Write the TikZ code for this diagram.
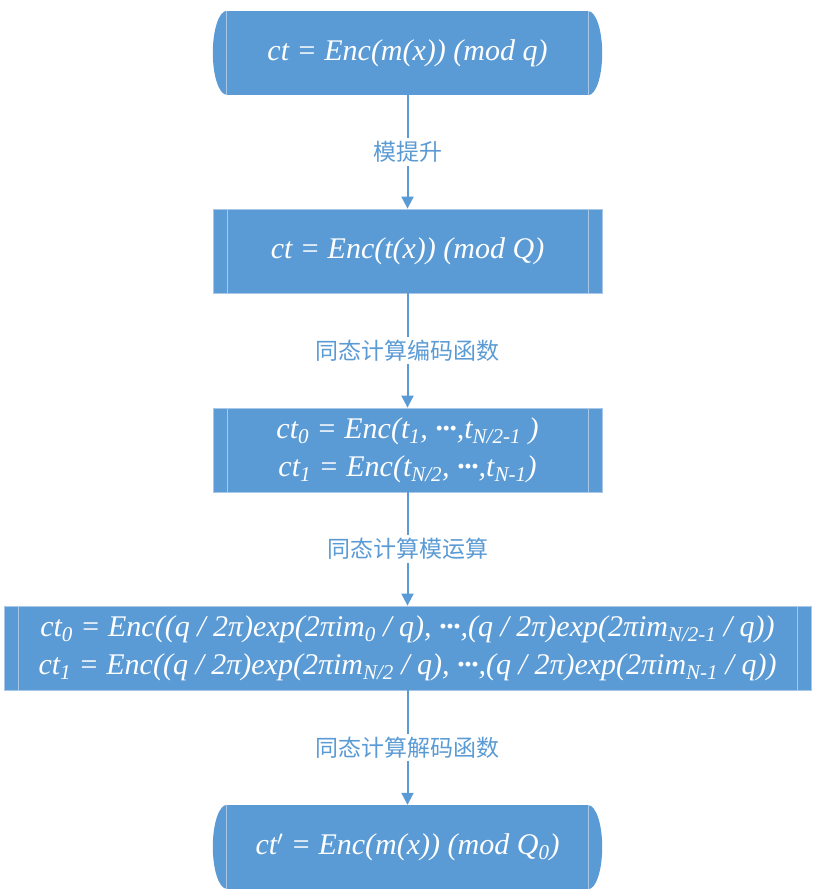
\documentclass[tikz,border=0pt]{standalone}
\usepackage{fontspec}
\setmainfont{Liberation Serif}
\newfontfamily\cjkfont{Noto Sans CJK SC}
\usetikzlibrary{positioning,arrows.meta}
\definecolor{boxblue}{HTML}{5B9BD5}
\definecolor{lineblue}{HTML}{A9C8E8}
\tikzset{
  stepnode/.style={rectangle, fill=boxblue, draw=lineblue, line width=0.8pt,
    minimum height=84pt, text=white, align=center,
    font=\fontsize{30}{38}\selectfont\itshape,
    path picture={
      \draw[lineblue, line width=0.8pt]
        ([xshift=14pt]path picture bounding box.north west) -- ([xshift=14pt]path picture bounding box.south west)
        ([xshift=-14pt]path picture bounding box.north east) -- ([xshift=-14pt]path picture bounding box.south east);
    }},
  endnode/.style={rectangle, fill=boxblue, minimum width=361pt, minimum height=84pt,
    text=white, font=\fontsize{30}{38}\selectfont\itshape},
  flow/.style={boxblue, line width=2pt, -{Triangle[length=12pt,width=12pt]}},
  steplabel/.style={fill=white, text=boxblue, inner sep=3pt, font=\fontsize{23}{26}\selectfont\cjkfont}
}
\newcommand{\dotsfill}{\textbf{\textperiodcentered\kern-0.5pt\textperiodcentered\kern-0.5pt\textperiodcentered}}
\newcommand{\bulges}[1]{%
  \fill[boxblue] (#1.north west) arc[start angle=90, end angle=270, x radius=14, y radius=42] -- cycle;
  \fill[boxblue] (#1.south east) arc[start angle=-90, end angle=90, x radius=14, y radius=42] -- cycle;
  \draw[lineblue, line width=0.8pt] (#1.north west) -- (#1.south west) (#1.north east) -- (#1.south east);
}
\begin{document}
\begin{tikzpicture}[x=1pt, y=1pt]
  \useasboundingbox (0,0) rectangle (818,-896);

  % boxes
  \node[endnode] (start) at (407.5,-53) {ct = Enc(m(x)) (mod q)};
  \bulges{start}
  \node[stepnode, minimum width=389pt] (lift) at (407.5,-251) {ct = Enc(t(x)) (mod Q)};
  \node[stepnode, minimum width=389pt] (encode) at (407.5,-450)
    {ct\textsubscript{0} = Enc(t\textsubscript{1}, \dotsfill,t\textsubscript{N/2-1} )\\
     ct\textsubscript{1} = Enc(t\textsubscript{N/2}, \dotsfill,t\textsubscript{N-1})};
  \node[stepnode, minimum width=807pt] (modop) at (407.5,-648)
    {ct\textsubscript{0} = Enc((q / 2π)exp(2πim\textsubscript{0} / q), \dotsfill,(q / 2π)exp(2πim\textsubscript{N/2-1} / q))\\
     ct\textsubscript{1} = Enc((q / 2π)exp(2πim\textsubscript{N/2} / q), \dotsfill,(q / 2π)exp(2πim\textsubscript{N-1} / q))};
  \node[endnode] (result) at (407.5,-847) {ct$'$ = Enc(m(x)) (mod Q\textsubscript{0})};
  \bulges{result}

  % arrows
  \draw[flow] (start.south) -- (lift.north) node[midway, steplabel] (l1) {模提升};
  \draw[flow] (lift.south) -- (encode.north) node[midway, steplabel] (l2) {同态计算编码函数};
  \draw[flow] (encode.south) -- (modop.north) node[midway, steplabel] (l3) {同态计算模运算};
  \draw[flow] (modop.south) -- (result.north) node[midway, steplabel] (l4) {同态计算解码函数};
\end{tikzpicture}
\end{document}
